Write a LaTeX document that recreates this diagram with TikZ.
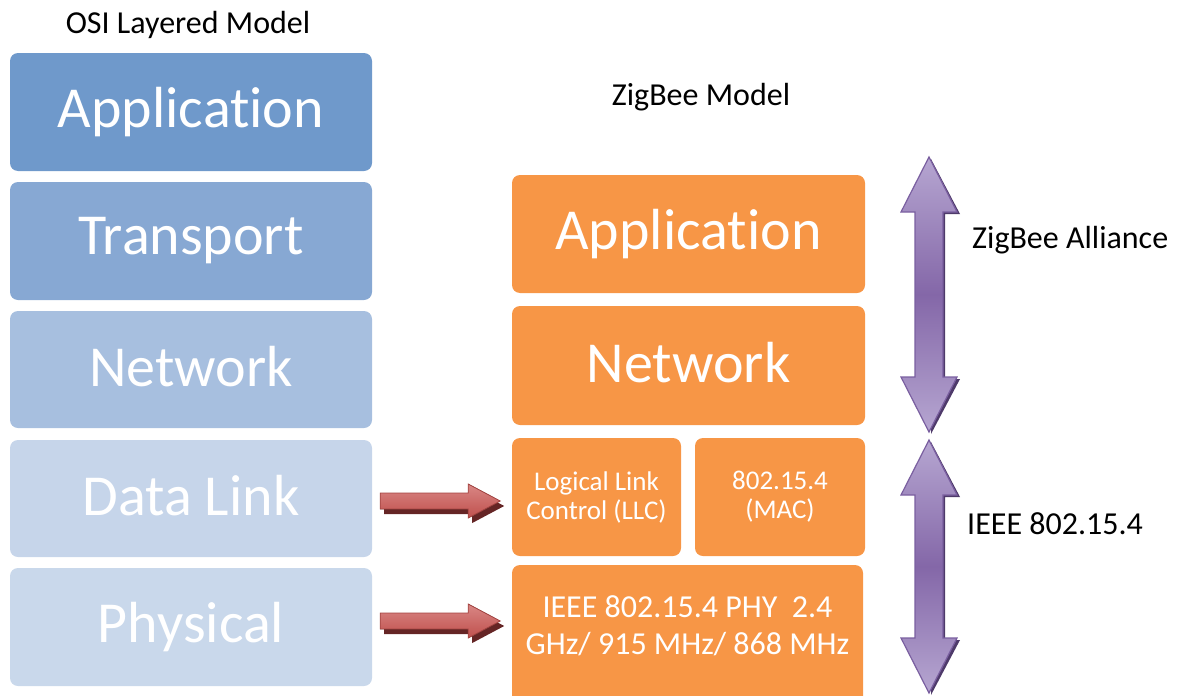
\documentclass[tikz,border=0pt]{standalone}
\usepackage{fontspec}
\setmainfont{Carlito}[Ligatures=NoCommon]
\usetikzlibrary{calc}
\definecolor{bA}{HTML}{6F99CB}
\definecolor{bT}{HTML}{87A8D3}
\definecolor{bN}{HTML}{A7BFDF}
\definecolor{bD}{HTML}{C6D5EA}
\definecolor{bP}{HTML}{C9D8EB}
\definecolor{org}{HTML}{F79646}
\definecolor{rA}{HTML}{C0504D}
\definecolor{rL}{HTML}{D98785}
\definecolor{rS}{HTML}{652525}
\definecolor{pL}{HTML}{B6A6D1}
\definecolor{pM}{HTML}{8467A8}
\definecolor{pO}{HTML}{7A5FA0}
\definecolor{pS}{HTML}{4E3A6A}
\newcommand{\upby}[1]{\raisebox{6pt}{#1}}
\begin{document}
\begin{tikzpicture}[x=1pt,y=-1pt,
  osibox/.style={rounded corners=8pt, minimum width=362pt, minimum height=118pt, inner sep=0pt, text=white, font=\fontsize{58}{60}\selectfont},
  zbox/.style={rounded corners=8pt, fill=org, inner sep=0pt, text=white},
  big/.style={font=\fontsize{58}{60}\selectfont},
  lbl/.style={font=\fontsize{32}{36}\selectfont, text=black, inner sep=0pt},
]
\useasboundingbox (0,0) rectangle (1178,696);
\begin{scope}
\clip (0,0) rectangle (1178,696);
% OSI column
\node[osibox, fill=bA] (oapp) at (191,112) {\upby{Application}};
\node[osibox, fill=bT] (otra) at (191,241) {\upby{Transport}};
\node[osibox, fill=bN, minimum height=117pt] (onet) at (191,369.5) {\upby{Network}};
\node[osibox, fill=bD, minimum height=117pt] (odl) at (191,498.5) {\upby{Data Link}};
\node[osibox, fill=bP] (ophy) at (191,627) {\upby{Physical}};
% ZigBee column
\node[zbox, big, minimum width=353pt, minimum height=118pt] (zapp) at (688.5,234) {\upby{Application}};
\node[zbox, big, minimum width=353pt, minimum height=119pt] (znet) at (688.5,365.5) {\upby{Network}};
\node[zbox, minimum width=169pt, minimum height=118pt, align=center, font=\fontsize{27}{29}\selectfont] (llc) at (596.5,497) {Logical Link\\Control (LLC)};
\node[zbox, minimum width=170pt, minimum height=118pt, align=center, font=\fontsize{27}{29}\selectfont] (mac) at (780,497) {802.15.4\\(MAC)};
\node[zbox, minimum width=351pt, minimum height=150pt] (phy) at (687.5,640) {};
\node[text=white, align=center, inner sep=0pt, font=\fontsize{32}{37}\selectfont] (phytext) at (687.5,626) {IEEE 802.15.4 PHY\ \ 2.4\\GHz/ 915 MHz/ 868 MHz};
% labels
\node[lbl] (osilbl) at (188,25) {OSI Layered Model};
\node[lbl] (zblbl) at (701,97) {ZigBee Model};
\node[lbl, anchor=west] (zalbl) at (972,240) {ZigBee Alliance};
\node[lbl, anchor=west] (ieeelbl) at (967,524) {IEEE 802.15.4};
% red arrows
\coordinate (a1s) at ($(odl.east)+(8,2.5)$);
\coordinate (a2s) at ($(ophy.east)+(8,-6)$);
\foreach \s in {a1s,a2s}{
  \begin{scope}[shift={(\s)}]
    \fill[rS] (4,-3) -- (92,-3) -- (92,-12) -- (124,5) -- (92,22) -- (92,13) -- (4,13) -- cycle;
    \fill[top color=rL, bottom color=rA, draw=rA!85!black, line width=0.8pt] (0,-8) -- (88,-8) -- (88,-17) -- (120,0) -- (88,17) -- (88,8) -- (0,8) -- cycle;
  \end{scope}
}
% purple double arrows
\foreach \t/\b in {157/432, 440/693}{
  \pgfmathsetmacro{\hb}{\t+55}
  \pgfmathsetmacro{\hc}{\b-55}
  \fill[pS] (931,\t+2) -- (960,\hb+2) -- (945,\hb+2) -- (945,\hc+2) -- (960,\hc+2) -- (931,\b+2) -- cycle;
  \draw[pO, line width=1.2pt, top color=pL, bottom color=pL, middle color=pM]
    (929,\t) -- (957,\hb) -- (943,\hb) -- (943,\hc) -- (957,\hc) -- (929,\b) -- (901,\hc) -- (915,\hc) -- (915,\hb) -- (901,\hb) -- cycle;
}
\end{scope}
\end{tikzpicture}
\end{document}
